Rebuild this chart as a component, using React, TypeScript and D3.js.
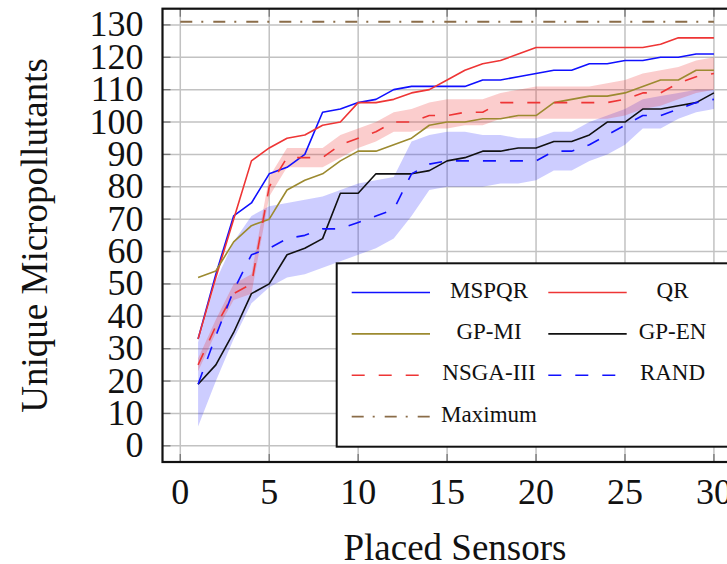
import React from 'react';
import * as d3 from 'd3';

const sensors = [1, 2, 3, 4, 5, 6, 7, 8, 9, 10, 11, 12, 13, 14, 15, 16, 17, 18, 19, 20, 21, 22, 23, 24, 25, 26, 27, 28, 29, 30];
const mspqr = [33, 53, 71, 75, 84, 86, 90, 103, 104, 106, 107, 110, 111, 111, 111, 111, 113, 113, 114, 115, 116, 116, 118, 118, 119, 119, 120, 120, 121, 121];
const qr = [33, 52, 70, 88, 92, 95, 96, 99, 100, 106, 106, 107, 109, 110, 113, 116, 118, 119, 121, 123, 123, 123, 123, 123, 123, 123, 124, 126, 126, 126];
const gpmi = [52, 54, 63, 68, 70, 79, 82, 84, 88, 91, 91, 93, 95, 99, 100, 100, 101, 101, 102, 102, 106, 107, 108, 108, 109, 111, 113, 113, 116, 116];
const gpen = [19, 25, 35, 47, 50, 59, 61, 64, 78, 78, 84, 84, 84, 85, 88, 89, 91, 91, 92, 92, 94, 94, 96, 100, 100, 104, 104, 105, 106, 109];
const nsga = [25, 37, 47, 50, 80, 89, 89, 89, 93, 95, 97, 100, 100, 102, 102, 103, 103, 106, 106, 106, 106, 106, 106, 106, 107, 109, 109, 112, 114, 115];
const nsgaUpper = [27, 39, 50, 53, 83, 92, 92, 92, 96, 98, 100, 103, 104, 106, 107, 107, 107, 109, 110, 111, 111, 111, 111, 112, 113, 115, 116, 117, 119, 120];
const nsgaLower = [23, 35, 45, 47, 77, 86, 86, 86, 89, 92, 94, 97, 97, 98, 98, 99, 99, 101, 101, 101, 101, 101, 101, 101, 102, 104, 105, 107, 109, 110];
const rand = [19, 34, 48, 59, 61, 64, 65, 67, 67, 69, 71, 73, 84, 87, 88, 88, 88, 88, 88, 88, 91, 91, 93, 96, 99, 102, 102, 104, 106, 107];
const randUpper = [32, 51, 63, 71, 74, 75, 76, 77, 79, 81, 82, 83, 94, 96, 97, 97, 96, 96, 95, 95, 97, 97, 100, 102, 104, 107, 108, 109, 110, 110];
const randLower = [6, 20, 33, 44, 49, 52, 53, 55, 57, 59, 61, 64, 71, 79, 80, 80, 80, 81, 81, 82, 85, 85, 88, 90, 93, 98, 98, 101, 103, 104];
const maxX = [0, 30];
const maxY = [131, 131];

const xTicks = [0, 5, 10, 15, 20, 25, 30];
const yTicks = [0, 10, 20, 30, 40, 50, 60, 70, 80, 90, 100, 110, 120, 130];

const W = 727, H = 564;
const L = 162.5, R = 749.5, T = 8.7, B = 462;
const FONT = "'Liberation Serif', 'DejaVu Serif', serif";

const C_BLUE = '#1010ff';
const C_RED = '#ee3535';
const C_OLIVE = '#9c8a30';
const C_BLACK = '#111111';
const C_BROWN = '#8a6c48';
const DASH = '13,14';
const DASHDOT = '12,9,2,10';

export default function App() {
  const x = d3.scaleLinear().domain([-1, 32]).range([L, R]);
  const y = d3.scaleLinear().domain([-5, 135]).range([B, T]);

  const line = (vals: number[], xs: number[] = sensors) =>
    d3.line<number>().x((_, i) => x(xs[i])).y((d) => y(d)).curve(d3.curveLinear)(vals) || '';
  const area = (up: number[], lo: number[]) =>
    d3.area<number>().x((_, i) => x(sensors[i])).y0((_, i) => y(lo[i])).y1((d) => y(d))(up) || '';

  const series = [
    { name: 'MSPQR', vals: mspqr, color: C_BLUE, dash: undefined as string | undefined },
    { name: 'QR', vals: qr, color: C_RED, dash: undefined },
    { name: 'GP-MI', vals: gpmi, color: C_OLIVE, dash: undefined },
    { name: 'GP-EN', vals: gpen, color: C_BLACK, dash: undefined },
    { name: 'NSGA-III', vals: nsga, color: C_RED, dash: DASH },
    { name: 'RAND', vals: rand, color: C_BLUE, dash: DASH },
  ];

  const legend = [
    { name: 'MSPQR', color: C_BLUE, dash: undefined as string | undefined, col: 0, row: 0 },
    { name: 'QR', color: C_RED, dash: undefined, col: 1, row: 0 },
    { name: 'GP-MI', color: C_OLIVE, dash: undefined, col: 0, row: 1 },
    { name: 'GP-EN', color: C_BLACK, dash: undefined, col: 1, row: 1 },
    { name: 'NSGA-III', color: C_RED, dash: DASH, col: 0, row: 2 },
    { name: 'RAND', color: C_BLUE, dash: DASH, col: 1, row: 2 },
    { name: 'Maximum', color: C_BROWN, dash: DASHDOT, col: 0, row: 3 },
  ];
  const colLine = [[351.7, 430], [548.3, 626.7]];
  const colText = [489, 672.5];

  return (
    <svg width={W} height={H} style={{ position: 'absolute', left: 0, top: 0, background: '#fff' }} fontFamily={FONT}>
      <defs>
        <clipPath id="plot">
          <rect x={L} y={T} width={R - L} height={B - T} />
        </clipPath>
      </defs>
      <rect x={0} y={0} width={W} height={H} fill="#fff" />
      {/* grid */}
      <g stroke="#c2c2c2" strokeWidth={1.5}>
        {xTicks.map((t) => (
          <line key={'gx' + t} x1={x(t)} x2={x(t)} y1={T} y2={B} />
        ))}
        {yTicks.map((t) => (
          <line key={'gy' + t} x1={L} x2={R} y1={y(t)} y2={y(t)} />
        ))}
      </g>
      {/* ticks */}
      <g stroke="#777" strokeWidth={1.3}>
        {xTicks.map((t) => (
          <g key={'tx' + t}>
            <line x1={x(t)} x2={x(t)} y1={B} y2={B - 8} />
            <line x1={x(t)} x2={x(t)} y1={T} y2={T + 8} />
          </g>
        ))}
        {yTicks.map((t) => (
          <line key={'ty' + t} x1={L} x2={L + 8} y1={y(t)} y2={y(t)} />
        ))}
      </g>
      <g clipPath="url(#plot)">
        <path d={area(randUpper, randLower)} fill="#2828ff" fillOpacity={0.23} stroke="none" />
        <path d={area(nsgaUpper, nsgaLower)} fill="#f03030" fillOpacity={0.24} stroke="none" />
        {series.map((s) => (
          <path key={s.name} d={line(s.vals)} fill="none" stroke={s.color} strokeWidth={1.6}
            strokeDasharray={s.dash} strokeLinejoin="round" />
        ))}
        <path d={line(maxY, maxX)} fill="none" stroke={C_BROWN} strokeWidth={2} strokeDasharray={DASHDOT} />
      </g>
      {/* frame */}
      <rect x={L} y={T} width={R - L} height={B - T} fill="none" stroke="#111" strokeWidth={2.2} />
      {/* tick labels */}
      <g fontSize={36} fill="#111">
        {yTicks.map((t) => (
          <text key={'ly' + t} x={143.5} y={y(t) + 11.5} textAnchor="end">{t}</text>
        ))}
        {xTicks.map((t) => (
          <text key={'lx' + t} x={x(t)} y={503.5} textAnchor="middle">{t}</text>
        ))}
      </g>
      <text x={455} y={560} fontSize={37} textAnchor="middle" fill="#111">Placed Sensors</text>
      <text transform={`translate(47,235.4) rotate(-90)`} fontSize={37} textAnchor="middle" fill="#111">Unique Micropollutants</text>
      {/* legend */}
      <rect x={336.7} y={263.3} width={420} height={183.4} fill="#fff" stroke="#111" strokeWidth={2} />
      <g fontSize={23} fill="#111">
        {legend.map((e) => {
          const base = 297.5 + 41.4 * e.row;
          const ly = base - 5;
          return (
            <g key={e.name}>
              <line x1={colLine[e.col][0]} x2={colLine[e.col][1]} y1={ly} y2={ly} stroke={e.color}
                strokeWidth={e.name === 'Maximum' ? 1.8 : 1.6} strokeDasharray={e.dash} />
              <text x={colText[e.col]} y={base} textAnchor="middle">{e.name}</text>
            </g>
          );
        })}
      </g>
    </svg>
  );
}
